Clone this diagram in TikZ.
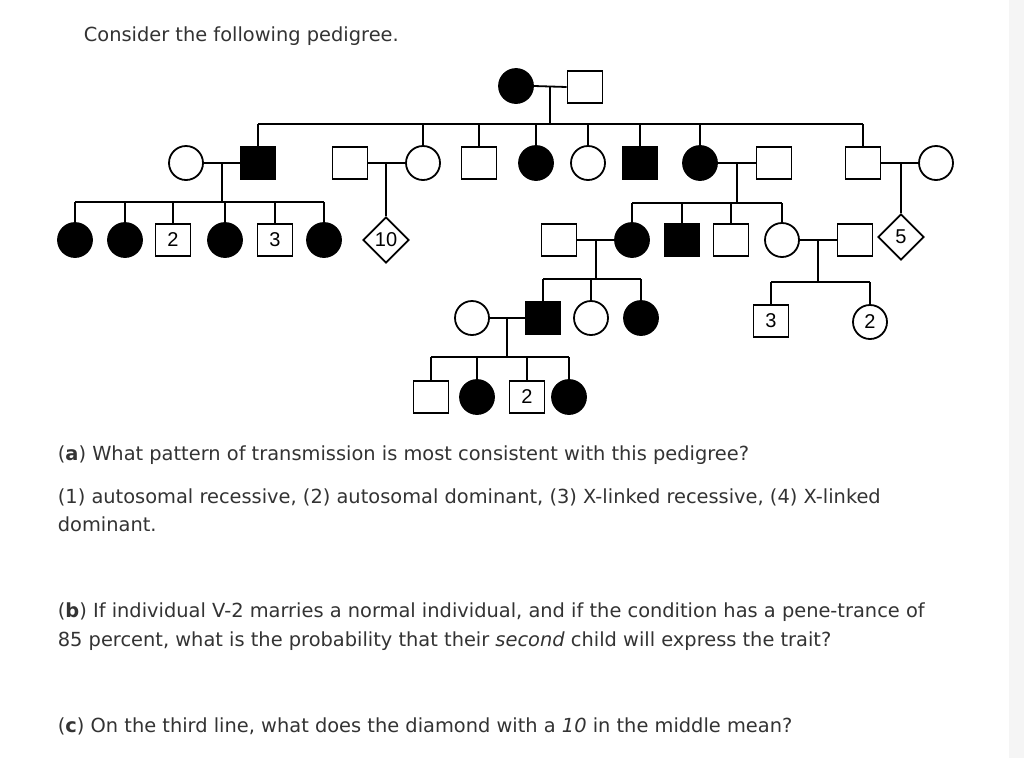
\documentclass[tikz,border=0pt]{standalone}
\usepackage{fontspec}
\setmainfont{DejaVu Sans}
\newfontfamily\pedfont{Liberation Sans}
\usetikzlibrary{shapes.geometric,calc}
\definecolor{txt}{HTML}{333333}
\begin{document}
\begin{tikzpicture}[x=1pt,y=-1pt,
  every path/.style={line width=1.8pt},
  sq/.style={draw,rectangle,line width=1.8pt,minimum width=35pt,minimum height=32pt,inner sep=0pt,fill=white,font=\pedfont\fontsize{20}{20}\selectfont},
  sqf/.style={sq,fill=black},
  ci/.style={draw,circle,line width=1.8pt,minimum size=34pt,inner sep=0pt,fill=white,font=\pedfont\fontsize{20}{20}\selectfont},
  cif/.style={ci,fill=black},
  dm/.style={draw,diamond,line width=1.8pt,minimum size=46pt,inner sep=0pt,fill=white,font=\pedfont\fontsize{20}{20}\selectfont},
  tx/.style={anchor=base west,inner sep=0pt,text=txt,font=\fontsize{19.4}{23}\selectfont},
  ln/.style={line width=1.8pt}]
\useasboundingbox (0,0) rectangle (1024,758);
\fill[white] (0,0) rectangle (1024,758);
\fill[black!4] (1009,0) rectangle (1024,758);

% Generation I
\node[cif] (a1) at (516,86) {};
\node[sq]  (a2) at (585,87) {};
% Generation II
\foreach \n/\s/\x in {b1/ci/186,b2/sqf/258,b3/sq/350,b4/ci/423,b5/sq/479,b6/cif/536,b7/ci/588,b8/sqf/640,b9/cif/700,b10/sq/774,b11/sq/863,b12/ci/936}
  \node[\s] (\n) at (\x,163) {};
% Generation III
\foreach \n/\s/\x/\t in {c1/cif/75/,c2/cif/125/,c3/sq/173/2,c4/cif/225/,c5/sq/275/3,c6/cif/324/,d1/sq/559/,d2/cif/632/,d3/sqf/682/,d4/sq/731/,d5/ci/782/,d6/sq/855/}
  \node[\s] (\n) at (\x,240) {\t};
\node[dm] (c7) at (386,240) {10};
\node[dm] (d7) at (901,237) {5};
% Generation IV
\foreach \n/\s/\x in {e1/ci/472,e2/sqf/543,e3/ci/591,e4/cif/641}
  \node[\s] (\n) at (\x,318) {};
\node[sq] (f1) at (771,321) {3};
\node[ci] (f2) at (870,322) {2};
% Generation V
\foreach \n/\s/\x/\t in {g1/sq/431/,g2/cif/477/,g3/sq/527/2,g4/cif/569/}
  \node[\s] (\n) at (\x,397) {\t};

% Couples and descent
\coordinate (m1) at ($(a1.east)!0.5!(a2.west)$);
\draw[ln] (a1.east) -- (a2.west);
\coordinate (s1) at (m1 |- 0,124);
\draw[ln] (m1) -- (s1);
\draw[ln] (s1 -| b2) -- (s1 -| b11);
\foreach \c in {b2,b4,b5,b6,b7,b8,b9,b11} \draw[ln] (s1 -| \c) -- (\c.north);

\coordinate (m2) at ($(b1.east)!0.5!(b2.west)$);
\draw[ln] (b1.east) -- (b2.west);
\coordinate (s2) at (m2 |- 0,202);
\draw[ln] (m2) -- (s2);
\draw[ln] (s2 -| c1) -- (s2 -| c6);
\foreach \c in {c1,c2,c3,c4,c5,c6} \draw[ln] (s2 -| \c) -- (\c.north);

\draw[ln] (b3.east) -- (b4.west);
\draw[ln] (c7 |- b3) -- (c7.north);

\coordinate (m4) at ($(b9.east)!0.5!(b10.west)$);
\draw[ln] (b9.east) -- (b10.west);
\coordinate (s4) at (m4 |- 0,203);
\draw[ln] (m4) -- (s4);
\draw[ln] (s4 -| d2) -- (s4 -| d5);
\foreach \c in {d2,d3,d4,d5} \draw[ln] (s4 -| \c) -- (\c.north);

\draw[ln] (b11.east) -- (b12.west);
\draw[ln] (d7 |- b11) -- (d7.north);

\coordinate (m6) at ($(d1.east)!0.5!(d2.west)$);
\draw[ln] (d1.east) -- (d2.west);
\coordinate (s6) at (m6 |- 0,279);
\draw[ln] (m6) -- (s6);
\draw[ln] (s6 -| e2) -- (s6 -| e4);
\foreach \c in {e2,e3,e4} \draw[ln] (s6 -| \c) -- (\c.north);

\coordinate (m7) at ($(d5.east)!0.5!(d6.west)$);
\draw[ln] (d5.east) -- (d6.west);
\coordinate (s7) at (m7 |- 0,282);
\draw[ln] (m7) -- (s7);
\draw[ln] (s7 -| f1) -- (s7 -| f2);
\foreach \c in {f1,f2} \draw[ln] (s7 -| \c) -- (\c.north);

\coordinate (m8) at ($(e1.east)!0.5!(e2.west)$);
\draw[ln] (e1.east) -- (e2.west);
\coordinate (s8) at (m8 |- 0,357);
\draw[ln] (m8) -- (s8);
\draw[ln] (s8 -| g1) -- (s8 -| g4);
\foreach \c in {g1,g2,g3,g4} \draw[ln] (s8 -| \c) -- (\c.north);

% Text
\node[tx] (t0) at (83,41) {Consider the following pedigree.};
\node[tx] (t1) at (57,460) {(\textbf{a}) What pattern of transmission is most consistent with this pedigree?};
\node[tx] (t2) at (57,503) {(1) autosomal recessive, (2) autosomal dominant, (3) X-linked recessive, (4) X-linked};
\node[tx] (t3) at (57,531) {dominant.};
\node[tx] (t4) at (57,617) {(\textbf{b}) If individual V-2 marries a normal individual, and if the condition has a pene-trance of};
\node[tx] (t5) at (57,646) {85 percent, what is the probability that their \textit{second} child will express the trait?};
\node[tx] (t6) at (57,732) {(\textbf{c}) On the third line, what does the diamond with a \textit{10} in the middle mean?};
\end{tikzpicture}
\end{document}
